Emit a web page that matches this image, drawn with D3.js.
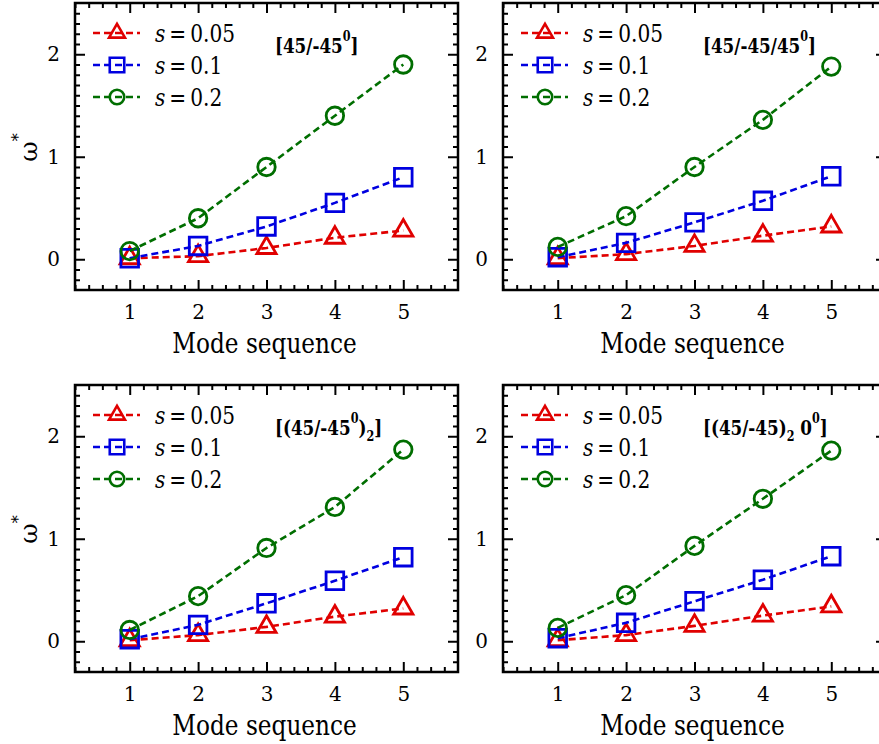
<!DOCTYPE html>
<html>
<head>
<meta charset="utf-8">
<title>Mode sequence</title>
<style>
  body { margin: 0; background: #fff; }
  svg text { font-family: "DejaVu Serif", "Liberation Serif", serif; fill: #000; }
</style>
</head>
<body>
<script src="https://cdn.jsdelivr.net/npm/d3@7"></script>
<script>
// --- data ---
var modes = [1, 2, 3, 4, 5];
var seriesNames = ["0.05", "0.1", "0.2"];
var xTicks = [1, 2, 3, 4, 5];
var yTicks = [0, 1, 2];

// [45/-45^0]
var tlS005 = [0.01, 0.03, 0.11, 0.21, 0.28];
var tlS01  = [0.01, 0.13, 0.32, 0.55, 0.80];
var tlS02  = [0.08, 0.40, 0.90, 1.40, 1.90];
// [45/-45/45^0]
var trS005 = [0.01, 0.05, 0.13, 0.23, 0.32];
var trS01  = [0.02, 0.16, 0.36, 0.57, 0.81];
var trS02  = [0.12, 0.42, 0.90, 1.36, 1.88];
// [(45/-45^0)_2]
var blS005 = [0.01, 0.06, 0.14, 0.24, 0.32];
var blS01  = [0.02, 0.16, 0.37, 0.59, 0.82];
var blS02  = [0.11, 0.44, 0.91, 1.31, 1.87];
// [(45/-45)_2 0^0]
var brS005 = [0.01, 0.06, 0.15, 0.25, 0.34];
var brS01  = [0.03, 0.18, 0.39, 0.60, 0.83];
var brS02  = [0.13, 0.45, 0.93, 1.39, 1.86];

var colors = ["#e00000", "#0000e0", "#006e00"];
var shapes = [d3.symbolTriangle, d3.symbolSquare, d3.symbolCircle];
var markSize = [160, 310, 240];
var legSize = [110, 210, 165];

var serif = "'DejaVu Serif', 'Liberation Serif', serif";

var svg = d3.select("body").append("svg")
  .attr("width", 879)
  .attr("height", 744);

// title parts: [text, level]  level 1 = superscript, -1 = subscript
var panels = [
  { left: 75,  top: 3,   series: [tlS005, tlS01, tlS02], ylab: true,
    title: [["[45/-45", 0], ["0", 1], ["]", 0]] },
  { left: 503, top: 3,   series: [trS005, trS01, trS02], ylab: false,
    title: [["[45/-45/45", 0], ["0", 1], ["]", 0]] },
  { left: 75,  top: 385, series: [blS005, blS01, blS02], ylab: true,
    title: [["[(45/-45", 0], ["0", 1], [")", 0], ["2", -1], ["]", 0]] },
  { left: 503, top: 385, series: [brS005, brS01, brS02], ylab: false,
    title: [["[(45/-45)", 0], ["2", -1], [" 0", 0], ["0", 1], ["]", 0]] }
];

var W = 383, H = 287;
var levelOffset = { "0": 0, "1": -12, "-1": 6 };

panels.forEach(function (p) {
  var g = svg.append("g").attr("transform", "translate(" + p.left + "," + p.top + ")");

  var x = d3.scaleLinear().domain([0.2, 5.8]).range([0, W]);
  var y = d3.scaleLinear().domain([-0.3, 2.5]).range([H, 0]);

  var xMinor = d3.range(1, 29).map(function (i) { return +(i * 0.2).toFixed(2); })
    .filter(function (v) { return v % 1 !== 0; });
  var yMinor = d3.range(-2, 25).map(function (i) { return +(i * 0.1).toFixed(2); })
    .filter(function (v) { return Math.abs(v - Math.round(v)) > 1e-6; });

  function axisStyle(sel) {
    sel.attr("font-family", null).attr("font-size", null);
    sel.select(".domain").remove();
    sel.selectAll(".tick line").attr("stroke", "#000").attr("stroke-width", 2);
    sel.selectAll(".tick text").style("font-size", "20px").style("font-family", serif);
  }

  // bottom
  g.append("g").attr("transform", "translate(0," + H + ")")
    .call(d3.axisBottom(x).tickValues(xTicks).tickSizeInner(-10).tickSizeOuter(0).tickPadding(15).tickFormat(d3.format("d")))
    .call(axisStyle);
  g.append("g").attr("transform", "translate(0," + H + ")")
    .call(d3.axisBottom(x).tickValues(xMinor).tickSizeInner(-5).tickSizeOuter(0).tickFormat(""))
    .call(axisStyle);
  // top
  g.append("g")
    .call(d3.axisTop(x).tickValues(xTicks).tickSizeInner(-10).tickSizeOuter(0).tickFormat(""))
    .call(axisStyle);
  g.append("g")
    .call(d3.axisTop(x).tickValues(xMinor).tickSizeInner(-5).tickSizeOuter(0).tickFormat(""))
    .call(axisStyle);
  // left
  g.append("g")
    .call(d3.axisLeft(y).tickValues(yTicks).tickSizeInner(-10).tickSizeOuter(0).tickPadding(15).tickFormat(d3.format("d")))
    .call(axisStyle);
  g.append("g")
    .call(d3.axisLeft(y).tickValues(yMinor).tickSizeInner(-5).tickSizeOuter(0).tickFormat(""))
    .call(axisStyle);
  // right
  g.append("g").attr("transform", "translate(" + W + ",0)")
    .call(d3.axisRight(y).tickValues(yTicks).tickSizeInner(-10).tickSizeOuter(0).tickFormat(""))
    .call(axisStyle);
  g.append("g").attr("transform", "translate(" + W + ",0)")
    .call(d3.axisRight(y).tickValues(yMinor).tickSizeInner(-5).tickSizeOuter(0).tickFormat(""))
    .call(axisStyle);

  g.append("rect")
    .attr("width", W).attr("height", H)
    .attr("fill", "none").attr("stroke", "#000").attr("stroke-width", 2.5);

  // lines + markers
  var line = d3.line()
    .x(function (d, i) { return x(modes[i]); })
    .y(function (d) { return y(d); });

  p.series.forEach(function (vals, k) {
    g.append("path")
      .attr("d", line(vals))
      .attr("fill", "none")
      .attr("stroke", colors[k])
      .attr("stroke-width", 2.6)
      .attr("stroke-dasharray", "7,4");

    g.selectAll(".m" + k).data(vals).enter().append("path")
      .attr("class", "m" + k)
      .attr("transform", function (d, i) { return "translate(" + x(modes[i]) + "," + y(d) + ")"; })
      .attr("d", d3.symbol().type(shapes[k]).size(markSize[k]))
      .attr("fill", "none")
      .attr("stroke", colors[k])
      .attr("stroke-width", 2.8);
  });

  // legend
  var rows = [30, 62, 94];
  seriesNames.forEach(function (name, k) {
    var lg = g.append("g").attr("transform", "translate(0," + rows[k] + ")");
    lg.append("line")
      .attr("x1", 18).attr("x2", 65)
      .attr("stroke", colors[k]).attr("stroke-width", 2.6)
      .attr("stroke-dasharray", "7,4");
    lg.append("path")
      .attr("transform", "translate(42,0)")
      .attr("d", d3.symbol().type(shapes[k]).size(legSize[k]))
      .attr("fill", "none").attr("stroke", colors[k]).attr("stroke-width", 2.6);
    var t = lg.append("text")
      .attr("transform", "translate(80,9) scale(0.84,1)")
      .style("font-size", "24px");
    t.append("tspan").style("font-style", "italic").text("s");
    t.append("tspan").text("\u2009=\u2009" + name);
  });

  // stacking label
  var tt = g.append("text")
    .attr("transform", "translate(200,50) scale(0.8,1)")
    .style("font-size", "21px").style("font-weight", "bold")
    .attr("xml:space", "preserve");
  var cur = 0;
  p.title.forEach(function (part) {
    var target = levelOffset[part[1]];
    var ts = tt.append("tspan").text(part[0]);
    if (part[1] !== 0) ts.style("font-size", "14px");
    if (target !== cur) ts.attr("dy", target - cur);
    cur = target;
  });

  // axis titles
  g.append("text")
    .attr("transform", "translate(" + (W / 2 - 2) + ",350) scale(0.86,1)")
    .attr("text-anchor", "middle")
    .style("font-size", "27px")
    .text("Mode sequence");

  if (p.ylab) {
    var yl = g.append("text")
      .attr("transform", "translate(" + (-38) + "," + (y(1) + 5) + ") rotate(-90)")
      .style("font-size", "25px");
    yl.append("tspan").text("\u03c9");
    yl.append("tspan").attr("dy", -13).style("font-size", "16px").text("*");
  }
});
</script>
</body>
</html>
